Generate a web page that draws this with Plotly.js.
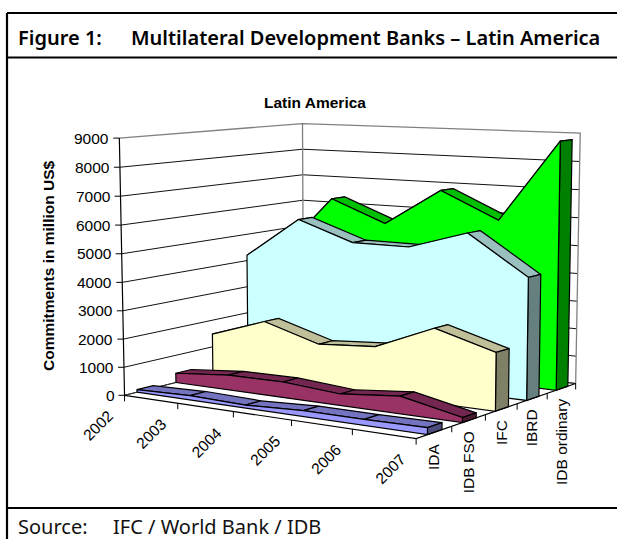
<!DOCTYPE html>
<html><head><meta charset="utf-8">
<script src="https://cdn.plot.ly/plotly-3.0.1.min.js"></script>
<style>html,body{margin:0;padding:0;background:#fff}#c{width:617px;height:539px}</style>
</head><body><div id="c"></div>
<script>
// ---- data (commitments in million US$) ----
const years = ['2002','2003','2004','2005','2006','2007'];
const seriesNames = ['IDA','IDB FSO','IFC','IBRD','IDB ordinary'];
const ida = [90,150,100,200,200,230];
const idbFso = [340,530,550,400,600,170];
const ifc = [1480,2170,1570,1720,2600,2000];
const ibrd = [4200,5700,5000,5000,5650,4280];
const idbOrdinary = [4100,6300,5500,6850,5900,8800];
const yTicks = [0,1000,2000,3000,4000,5000,6000,7000,8000,9000];
const frontColors = ['#9999FF','#993366','#FFFFCC','#CCFFFF','#00FF00'];
const topColors = ['#7373BF','#732650','#BFBF99','#99BFBF','#00BF00'];
const capColors = ['#4D4D80','#4D1A33','#808066','#668080','#008000'];

// ---- oblique 3-D view: fitted from the box corners of the picture ----
const corners = [
 [0,0,0,125,395],[1,0,0,416,439],[1,1,0,576,383],[0,1,0,303,351],
 [0,0,1,119,138],[0,1,1,303,123.5],[1,1,1,580,133.3]];
function fit(){
  const S=600,rows=[],rhs=[];
  corners.forEach(([u,w,z,x,y])=>{
    x/=S;y/=S;
    rows.push([u,w,z,1,0,0,0,0,-x*u,-x*w,-x*z]);rhs.push(x);
    rows.push([0,0,0,0,u,w,z,1,-y*u,-y*w,-y*z]);rhs.push(y);
  });
  const n=11,A=[];
  for(let i=0;i<n;i++){A[i]=[];for(let j=0;j<n;j++){let s=0;rows.forEach(r=>s+=r[i]*r[j]);A[i][j]=s+(i==j?1e-10:0);}
    let s=0;rows.forEach((r,k)=>s+=r[i]*rhs[k]);A[i][n]=s;}
  for(let i=0;i<n;i++){let p=i;for(let k=i+1;k<n;k++)if(Math.abs(A[k][i])>Math.abs(A[p][i]))p=k;[A[i],A[p]]=[A[p],A[i]];
    for(let k=0;k<n;k++)if(k!=i){const f=A[k][i]/A[i][i];for(let j=i;j<=n;j++)A[k][j]-=f*A[i][j];}}
  const m=A.map((r,i)=>r[n]/r[i]);
  return (u,w,z)=>{const d=m[8]*u+m[9]*w+m[10]*z+1;
    return [S*(m[0]*u+m[1]*w+m[2]*z+m[3])/d,S*(m[4]*u+m[5]*w+m[6]*z+m[7])/d];};
}
const proj=fit();
const yMax=9000, P=(u,w,v)=>proj(u,w,v/yMax);

const traces=[];
function path(pts,color,width,fill){
  const t={type:'scatter',mode:'lines',x:pts.map(p=>p?p[0]:null),y:pts.map(p=>p?p[1]:null),
    line:{color:color,width:width},hoverinfo:'skip',showlegend:false};
  if(fill){t.fill='toself';t.fillcolor=fill;}
  traces.push(t);
}
// walls
const gridGrey='#808080';
const gridPts=[];
yTicks.forEach(v=>{ if(v===yMax) return; gridPts.push(P(0,0,v),P(0,1,v),P(1,1,v),null); });
path(gridPts,'#111',1);
path([P(0,1,0),P(0,1,yMax)],gridGrey,1.3);
path([P(0,0,yMax),P(0,1,yMax),P(1,1,yMax),P(1,1,0)],gridGrey,1.3);
path([P(0,0,0),P(0,1,0),P(1,1,0)],'#333',1);

// areas, back to front
const all=[ida,idbFso,ifc,ibrd,idbOrdinary];
const n=years.length-1;
for(let s=all.length-1;s>=0;s--){
  const vals=all[s], w0=(s+0.31)/5, w1=(s+0.72)/5;
  const U=i=>i/n;
  for(let i=0;i<n;i++){
    path([P(U(i),w0,vals[i]),P(U(i+1),w0,vals[i+1]),P(U(i+1),w1,vals[i+1]),P(U(i),w1,vals[i]),P(U(i),w0,vals[i])],'#000',1.2,topColors[s]);
  }
  path([P(1,w0,0),P(1,w1,0),P(1,w1,vals[n]),P(1,w0,vals[n]),P(1,w0,0)],'#000',1.2,capColors[s]);
  const f=[P(0,w0,0)];
  vals.forEach((v,i)=>f.push(P(U(i),w0,v)));
  f.push(P(1,w0,0),P(0,w0,0));
  path(f,'#000',1.2,frontColors[s]);
}
// axes
path([P(0,0,0),P(0,0,yMax)],'#000',1.2);
path([P(0,0,0),P(1,0,0),P(1,1,0)],'#000',1.2);
const ann=[];
const tickPts=[];
const chartSize=15.5;
const txt=(text,x,y,o)=>ann.push(Object.assign({text,x,y,xref:'x',yref:'y',showarrow:false,borderpad:0,
  font:{family:'Liberation Sans',size:chartSize,color:'#000'}},o));
yTicks.forEach(v=>{const p=P(0,0,v);tickPts.push([p[0]-6,p[1]],p,null);
  txt(String(v),p[0]-9,p[1],{xanchor:'right',yanchor:'middle'});});
years.forEach((y,i)=>{const p=P(i/n,0,0);tickPts.push(p,[p[0],p[1]+6],null);
  txt(y,p[0]-7,p[1]+11,{textangle:-45,xanchor:'right',yanchor:'top'});});
seriesNames.forEach((nm,i)=>{const p=P(1,(i+1)/5,0);tickPts.push(p,[p[0],p[1]+6],null);
  const m=P(1,(i+0.5)/5,0);txt(nm,m[0],m[1]+10,{textangle:-90,xanchor:'center',yanchor:'top'});});
path(tickPts,'#000',1);

txt('Latin America',315,102,{font:{family:'Liberation Sans',size:chartSize,color:'#000',weight:700},xanchor:'center',yanchor:'middle'});
txt('Commitments in million US$',48,266,{font:{family:'Liberation Sans',size:chartSize,color:'#000',weight:700},textangle:-90,xanchor:'center',yanchor:'middle'});
const headFont={family:'Noto Sans',size:20,color:'#000',weight:600};
txt('Figure 1:',17,37,{font:headFont,xanchor:'left',yanchor:'middle'});
txt('Multilateral Development Banks – Latin America',130,37,{font:headFont,xanchor:'left',yanchor:'middle'});
const footFont={family:'Noto Sans',size:20,color:'#111'};
txt('Source:',17,526,{font:footFont,xanchor:'left',yanchor:'middle'});
txt('IFC / World Bank / IDB',112,526,{font:footFont,xanchor:'left',yanchor:'middle'});

const frame=[[7,13,617,13],[7,13,7,539],[7,57.5,617,57.5],[7,508,617,508]].map(a=>({type:'line',xref:'x',yref:'y',
  x0:a[0],y0:a[1],x1:a[2],y1:a[3],line:{color:'#000',width:2.2}}));

Plotly.newPlot('c',traces,{width:617,height:539,margin:{l:0,r:0,t:0,b:0},paper_bgcolor:'#fff',plot_bgcolor:'#fff',
  xaxis:{visible:false,range:[0,617],fixedrange:true},yaxis:{visible:false,range:[539,0],fixedrange:true},
  annotations:ann,shapes:frame,showlegend:false},{displayModeBar:false,staticPlot:true});
</script></body></html>
